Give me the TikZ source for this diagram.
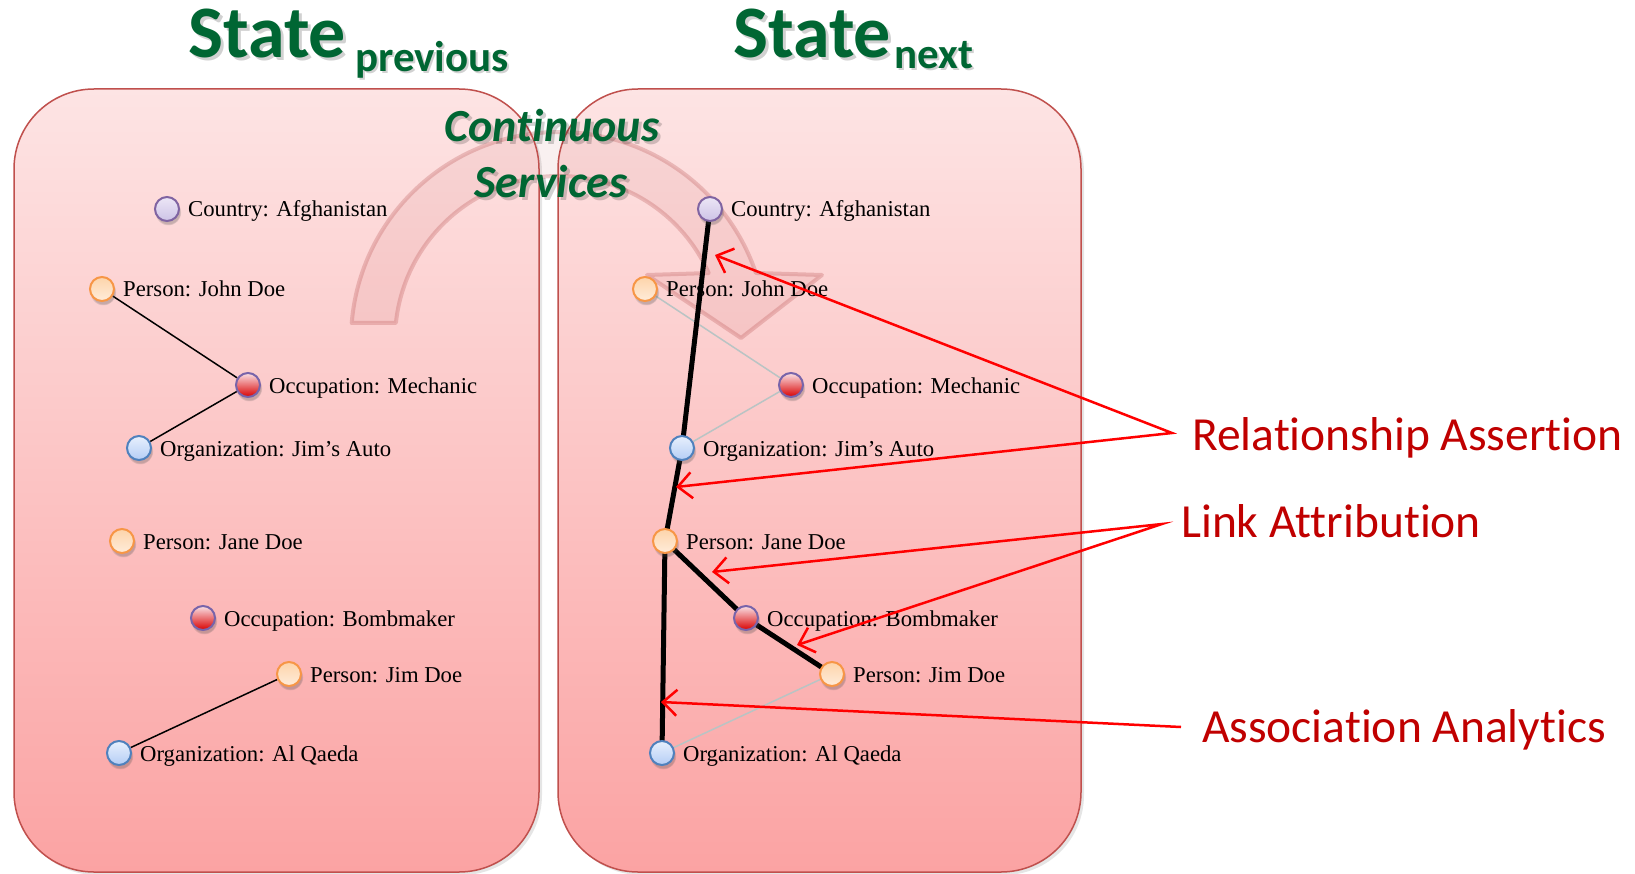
\documentclass[tikz,border=0pt]{standalone}
\usepackage{fontspec}
\newfontfamily\calib[Ligatures={NoCommon}]{Carlito}
\newfontfamily\serif{Liberation Serif}
\usetikzlibrary{arrows.meta,shadows,calc}
\pgfdeclarelayer{bg}\pgfdeclarelayer{arr}\pgfdeclarelayer{lab}\pgfdeclarelayer{top}
\pgfsetlayers{bg,arr,lab,main,top}
\definecolor{ttlgreen}{RGB}{0,102,51}
\definecolor{lblred}{RGB}{192,0,0}
\definecolor{boxtop}{RGB}{253,228,228}
\definecolor{boxbot}{RGB}{251,163,163}
\definecolor{boxline}{RGB}{192,80,77}
\definecolor{arrcol}{RGB}{190,90,90}
\definecolor{persline}{RGB}{247,150,70}
\definecolor{perstop}{RGB}{253,212,170}
\definecolor{persbot}{RGB}{255,236,218}
\definecolor{ctryline}{RGB}{128,100,162}
\definecolor{ctrytop}{RGB}{236,230,246}
\definecolor{ctrybot}{RGB}{205,195,230}
\definecolor{orgline}{RGB}{79,129,189}
\definecolor{orgtop}{RGB}{232,240,253}
\definecolor{orgbot}{RGB}{180,205,245}
\definecolor{occline}{RGB}{120,100,170}
\definecolor{occtop}{RGB}{250,225,230}
\definecolor{greyedge}{RGB}{185,196,196}
\tikzset{
  panel/.style={draw=boxline, line width=1.5pt, rounded corners=80pt, top color=boxtop, bottom color=boxbot,
    drop shadow={shadow xshift=3pt, shadow yshift=-3pt, opacity=.2}},
  dot/.style={circle, minimum size=24pt, inner sep=0pt, line width=2pt,
    circular drop shadow={shadow xshift=1pt, shadow yshift=-3pt, opacity=.3, fill=black!70}},
  person/.style={dot, draw=persline, top color=perstop, bottom color=persbot},
  country/.style={dot, draw=ctryline, top color=ctrytop, bottom color=ctrybot},
  org/.style={dot, draw=orgline, top color=orgtop, bottom color=orgbot},
  occ/.style={dot, draw=occline, top color=occtop, middle color=red, bottom color=red!85!black},
  lbl/.style={font={\serif\fontsize{22.7}{26}\selectfont}, anchor=base west, inner sep=0pt},
  thin/.style={line width=1.5pt, black},
  greyline/.style={line width=1.5pt, greyedge},
  thick/.style={line width=5pt, black, line cap=round},
  curvarr/.style={fill=arrcol, fill opacity=.09, draw=arrcol, draw opacity=.3, line width=4pt, line join=round},
  redarr/.style={draw=red, line width=2.5pt, line join=miter,
    {Straight Barb[length=14pt,width=26pt]}-{Straight Barb[length=14pt,width=26pt]}},
  redarrone/.style={draw=red, line width=2.5pt, -{Straight Barb[length=14pt,width=26pt]}},
  callout/.style={font={\calib\fontsize{47.5}{52}\selectfont}, text=lblred, anchor=base west, inner sep=0pt},
  bigttl/.style={font={\calib\bfseries\fontsize{74}{80}\selectfont}, anchor=base west, inner sep=0pt},
  subttl/.style={font={\calib\bfseries\fontsize{43}{48}\selectfont}, anchor=base west, inner sep=0pt},
  cs/.style={font={\calib\bfseries\itshape\fontsize{46}{50}\selectfont}, anchor=base, inner sep=0pt},
  shd/.style={text=black, opacity=.18},
}
\begin{document}
\begin{tikzpicture}[x=1pt,y=-1pt]
\useasboundingbox (0,0) rectangle (1635,874);
% panels
\begin{pgfonlayer}{bg}
\fill[white] (0,0) rectangle (1635,874);
\draw[panel] (14,89) rectangle (539,872);
\draw[panel] (558,89) rectangle (1081,872);
\end{pgfonlayer}
% curved arrow
\begin{pgfonlayer}{arr}
\coordinate (ac) at (559,340);
\path[curvarr] ($(ac)+(175.3:208pt)$) arc[start angle=175.3, end angle=18.8, radius=208pt]
  -- (822,275) -- (741,338) -- (647,275)
  -- ($(ac)+(24.1:164pt)$) arc[start angle=24.1, end angle=174, radius=164pt] -- cycle;
\end{pgfonlayer}
% circles
\begin{pgfonlayer}{top}
\node[country] (cL) at (167,209) {};
\node[person] (jdL) at (102,289) {};
\node[occ] (meL) at (248,385) {};
\node[org] (jaL) at (139,448) {};
\node[person] (janeL) at (122,541) {};
\node[occ] (boL) at (203,618) {};
\node[person] (jimL) at (289,674) {};
\node[org] (aqL) at (119,753) {};
\node[country] (cR) at (710,209) {};
\node[person] (jdR) at (645,289) {};
\node[occ] (meR) at (791,385) {};
\node[org] (jaR) at (682,448) {};
\node[person] (janeR) at (665,541) {};
\node[occ] (boR) at (746,618) {};
\node[person] (jimR) at (832,674) {};
\node[org] (aqR) at (662,753) {};
\end{pgfonlayer}
% labels
\begin{pgfonlayer}{lab}
\node[lbl] (cLt) at ($(cL)+(21,8)$) {Country: Afghanistan};
\node[lbl] (jdLt) at ($(jdL)+(21,8)$) {Person: John Doe};
\node[lbl] (meLt) at ($(meL)+(21,8)$) {Occupation: Mechanic};
\node[lbl] (jaLt) at ($(jaL)+(21,8)$) {Organization: Jim’s Auto};
\node[lbl] (janeLt) at ($(janeL)+(21,8)$) {Person: Jane Doe};
\node[lbl] (boLt) at ($(boL)+(21,8)$) {Occupation: Bombmaker};
\node[lbl] (jimLt) at ($(jimL)+(21,8)$) {Person: Jim Doe};
\node[lbl] (aqLt) at ($(aqL)+(21,8)$) {Organization: Al Qaeda};
\node[lbl] (cRt) at ($(cR)+(21,8)$) {Country: Afghanistan};
\node[lbl] (jdRt) at ($(jdR)+(21,8)$) {Person: John Doe};
\node[lbl] (meRt) at ($(meR)+(21,8)$) {Occupation: Mechanic};
\node[lbl] (jaRt) at ($(jaR)+(21,8)$) {Organization: Jim’s Auto};
\node[lbl] (janeRt) at ($(janeR)+(21,8)$) {Person: Jane Doe};
\node[lbl] (boRt) at ($(boR)+(21,8)$) {Occupation: Bombmaker};
\node[lbl] (jimRt) at ($(jimR)+(21,8)$) {Person: Jim Doe};
\node[lbl] (aqRt) at ($(aqR)+(21,8)$) {Organization: Al Qaeda};
\end{pgfonlayer}
% edges left
\draw[thin] (jdL) -- (meL);
\draw[thin] (meL) -- (jaL);
\draw[thin] (jimL) -- (aqL);
% edges right
\draw[greyline] (jdR) -- (meR);
\draw[greyline] (meR) -- (jaR);
\draw[greyline] (jimR) -- (aqR);
\draw[thick] (cR) -- (jaR);
\draw[thick] (jaR) -- (janeR);
\draw[thick] (janeR) -- (aqR);
\draw[thick] (janeR) -- (boR);
\draw[thick] (boR) -- (jimR);
% red callouts
\coordinate (raS) at (1172,433);
\coordinate (raT1) at (715,255);
\coordinate (raT2) at (676,487);
\coordinate (laS) at (1162,524);
\coordinate (laT1) at (712,572);
\coordinate (laT2) at (797,645);
\coordinate (aaS) at (1181,727);
\coordinate (aaT) at (661,702);
\draw[redarr] (raT1) -- (raS) -- (raT2);
\draw[redarr] (laT1) -- (laS) -- (laT2);
\draw[redarrone] (aaS) -- (aaT);
\node[callout] (ra) at (1192,450) {Relationship Assertion};
\node[callout] (la) at (1181,537) {Link Attribution};
\node[callout] (aa) at (1202,742) {Association Analytics};
% titles
\node[bigttl, shd] (t1s) at (191,61) {State};
\node[bigttl, text=ttlgreen] (t1) at (188,58) {State};
\node[subttl, shd] (t1bs) at (357,74) {previous};
\node[subttl, text=ttlgreen] (t1b) at (355,72) {previous};
\node[bigttl, shd] (t2s) at (736,61) {State};
\node[bigttl, text=ttlgreen] (t2) at (733,58) {State};
\node[subttl, shd] (t2bs) at (896,71) {next};
\node[subttl, text=ttlgreen] (t2b) at (894,69) {next};
\node[cs, shd] (cs1s) at (555,145) {Continuous};
\node[cs, text=ttlgreen] (cs1) at (552,142) {Continuous};
\node[cs, shd] (cs2s) at (554,201) {Services};
\node[cs, text=ttlgreen] (cs2) at (551,198) {Services};
\end{tikzpicture}
\end{document}
